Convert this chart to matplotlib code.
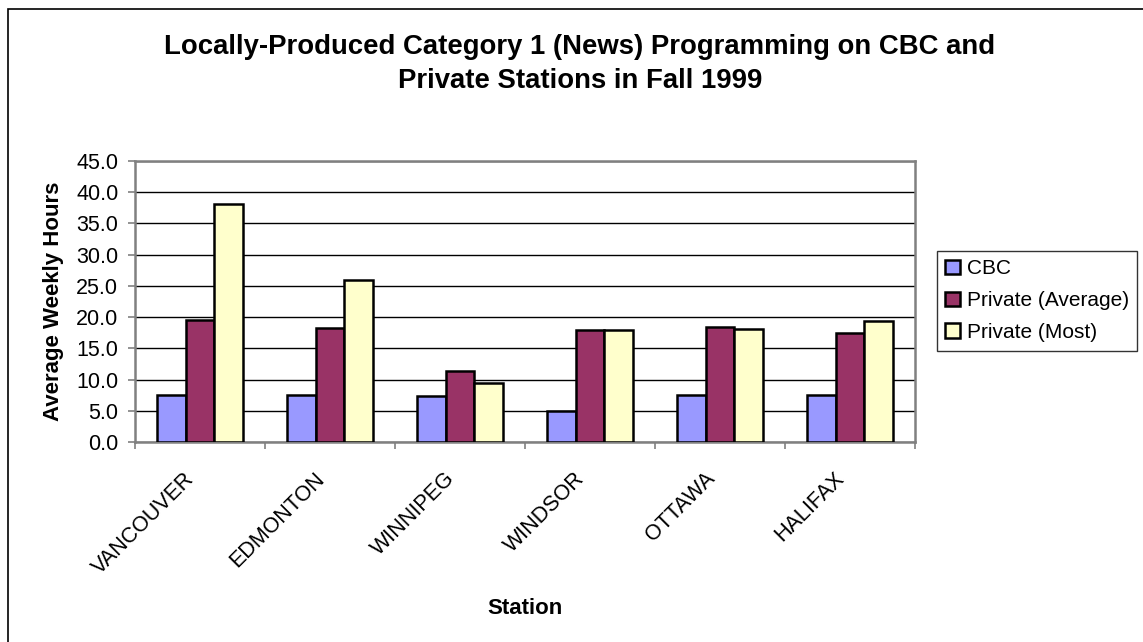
import numpy as np
import matplotlib.pyplot as plt
import matplotlib.transforms as mtransforms
from matplotlib.patches import Rectangle

plt.rcParams["font.family"] = ["Liberation Sans", "DejaVu Sans"]

stations = ["VANCOUVER", "EDMONTON", "WINNIPEG", "WINDSOR", "OTTAWA", "HALIFAX"]
cbc = [7.5, 7.5, 7.3, 5.0, 7.5, 7.5]
private_avg = [19.5, 18.2, 11.4, 17.9, 18.4, 17.4]
private_most = [38.1, 26.0, 9.5, 17.9, 18.1, 19.4]

series_names = ["CBC", "Private (Average)", "Private (Most)"]
series_colors = ["#9999FF", "#993366", "#FFFFCC"]

fig = plt.figure(figsize=(11.43, 6.42), dpi=100)
ax = fig.add_axes([135 / 1143, 1 - 442 / 642, 780 / 1143, 281 / 642])

# excel-style clustered bars, gap width 150%
bar_w = 1 / 4.5
x = np.arange(len(stations))
for i, (vals, name, col) in enumerate(zip([cbc, private_avg, private_most],
                                          series_names, series_colors)):
    ax.bar(x + 0.5 + (i - 1) * bar_w, vals, width=bar_w, color=col,
           edgecolor="black", linewidth=1.8, label=name, zorder=3)

ax.set_xlim(0, len(stations))
ax.set_ylim(0, 45)
ax.set_yticks(np.arange(0, 46, 5))
ax.set_yticklabels([f"{v:.1f}" for v in np.arange(0, 46, 5)], fontsize=15.5)
ax.yaxis.grid(True, color="black", linewidth=1.0, zorder=0)
ax.set_axisbelow(True)

ax.set_xticks(np.arange(0, len(stations) + 1))
ax.set_xticklabels([])
ax.set_xticks(x + 0.5, minor=True)
ax.set_xticklabels(stations, minor=True, rotation=45, ha="right", va="top",
                   rotation_mode="anchor", fontsize=15.5)
ax.tick_params(axis="x", which="minor", length=0, pad=19)
ax.tick_params(axis="x", which="major", length=5, color="#808080", width=1.2)
ax.tick_params(axis="y", length=5, color="#808080", width=1.2, pad=7)

# nudge rotated labels a little to the left
offset = mtransforms.ScaledTranslation(-0.16, 0, fig.dpi_scale_trans)
for lbl in ax.xaxis.get_minorticklabels():
    lbl.set_transform(lbl.get_transform() + offset)

for side in ["top", "right", "left", "bottom"]:
    ax.spines[side].set_color("#808080")
    ax.spines[side].set_linewidth(1.8)

ax.set_xlabel("Station", fontsize=16, fontweight="bold", labelpad=14)
ax.set_ylabel("Average Weekly Hours", fontsize=16, fontweight="bold", labelpad=9)

fig.text(580 / 1143, 1 - 64 / 642,
         "Locally-Produced Category 1 (News) Programming on CBC and\nPrivate Stations in Fall 1999",
         ha="center", va="center", fontsize=19.8, fontweight="bold", linespacing=1.45)

leg = fig.legend(loc="upper left", bbox_to_anchor=(937 / 1143, 1 - 251 / 642),
                 fontsize=15, frameon=True, fancybox=False, edgecolor="black",
                 handlelength=0.72, handleheight=0.72, handletextpad=0.3,
                 labelspacing=0.62, borderpad=0.4, borderaxespad=0)
leg.get_frame().set_linewidth(1.0)

# outer chart border
fig.patches.append(Rectangle((8 / 1143, -0.05), 1.2, 1 - 9 / 642 + 0.05,
                             transform=fig.transFigure, fill=False,
                             edgecolor="black", linewidth=1.2))

plt.savefig("out.png", dpi=100)
